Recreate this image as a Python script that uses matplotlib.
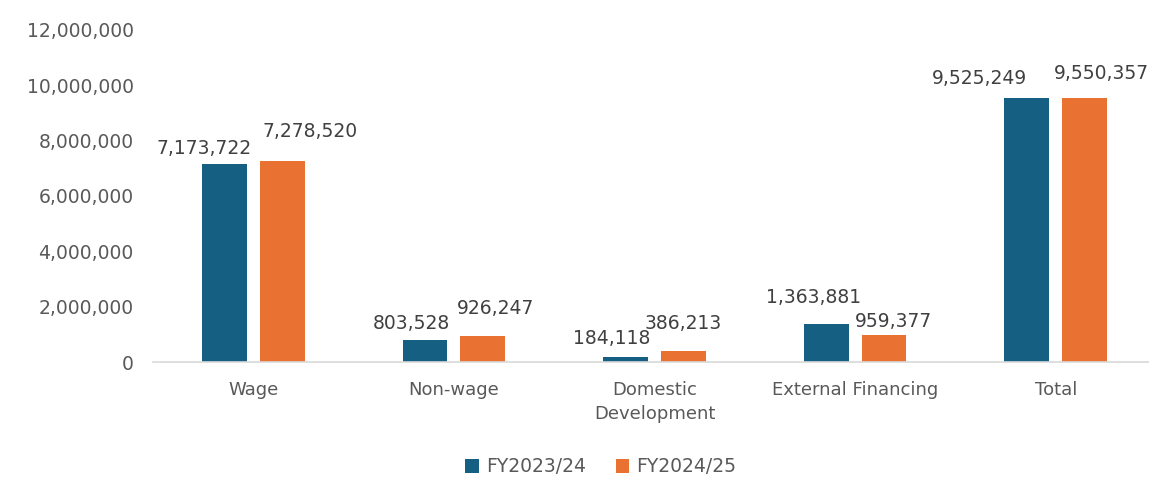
import matplotlib.pyplot as plt
import numpy as np
from matplotlib.ticker import FuncFormatter

# данные
categories = ['Wage', 'Non-wage', 'Domestic\nDevelopment', 'External Financing', 'Total']
fy2324 = [7173722, 803528, 184118, 1363881, 9525249]
fy2425 = [7278520, 926247, 386213, 959377, 9550357]
series_names = ['FY2023/24', 'FY2024/25']

# цвета и сдвиги подписей (в пикселях), как у Excel
blue = '#156082'
orange = '#E97132'
dx_blue = [-20, -14, -14, -13, -47]
dy_blue = [6, 7, 9, 17, 10]
dx_orange = [28, 13, 0, 10, 17]
dy_orange = [20, 18, 18, 4, 15]

plt.rcParams['font.family'] = 'DejaVu Sans'

fig = plt.figure(figsize=(11.49, 4.83), dpi=100)
ax = fig.add_axes([153 / 1149, 121 / 483, 1003 / 1149, (453 - 121) / 483])

x = np.arange(len(categories))
w = 0.224
off = 0.144
b1 = ax.bar(x - off, fy2324, w, color=blue, label=series_names[0])
b2 = ax.bar(x + off, fy2425, w, color=orange, label=series_names[1])

for i in range(len(x)):
    ax.annotate(f'{fy2324[i]:,}', (x[i] - off, fy2324[i]), xytext=(dx_blue[i], dy_blue[i]),
                textcoords='offset pixels', ha='center', va='bottom', fontsize=13.5, color='#404040')
    ax.annotate(f'{fy2425[i]:,}', (x[i] + off, fy2425[i]), xytext=(dx_orange[i], dy_orange[i]),
                textcoords='offset pixels', ha='center', va='bottom', fontsize=13.5, color='#404040',
                annotation_clip=False)

ax.set_xlim(-0.5, len(categories) - 0.5)
ax.set_ylim(0, 12000000)
ax.set_yticks(np.arange(0, 12000001, 2000000))
ax.yaxis.set_major_formatter(FuncFormatter(lambda v, p: f'{int(v):,}'))
ax.set_xticks(x)
ax.set_xticklabels(categories, linespacing=1.4)
ax.tick_params(axis='y', length=0, pad=14, labelsize=13.5, labelcolor='#595959')
ax.tick_params(axis='x', length=0, pad=14, labelsize=13, labelcolor='#595959')

for s in ['top', 'right', 'left']:
    ax.spines[s].set_visible(False)
ax.spines['bottom'].set_color('#D9D9D9')
ax.spines['bottom'].set_linewidth(1.2)

fig.legend(loc='center', bbox_to_anchor=(601 / 1149, 1 - 467 / 483), ncol=2, frameon=False,
           fontsize=13.5, handlelength=0.7, handleheight=0.7, handletextpad=0.4,
           columnspacing=1.6, labelcolor='#595959')

fig.savefig('out.png', dpi=100)
